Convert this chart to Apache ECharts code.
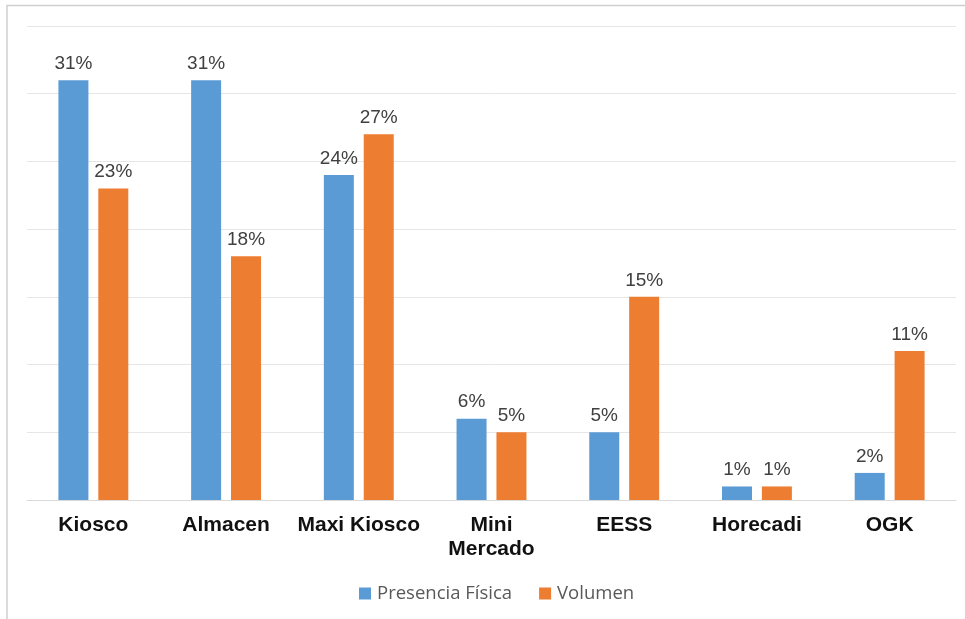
<!DOCTYPE html>
<html>
<head>
<meta charset="utf-8">
<script src="https://cdn.jsdelivr.net/npm/echarts@6/dist/echarts.min.js"></script>
<style>html,body{margin:0;padding:0;background:#fff;}#c{width:965px;height:619px;}</style>
</head>
<body>
<div id="c"></div>
<script>
const categories = ['Kiosco', 'Almacen', 'Maxi Kiosco', 'Mini\nMercado', 'EESS', 'Horecadi', 'OGK'];
const presencia = [31, 31, 24, 6, 5, 1, 2];
const volumen = [23, 18, 27, 5, 15, 1, 11];
const seriesNames = ['Presencia Física', 'Volumen'];

const chart = echarts.init(document.getElementById('c'), null, {renderer: 'canvas'});
const labelCfg = {
  show: true, position: 'top', distance: 7,
  formatter: p => p.value + '%',
  color: '#404040', fontSize: 19, fontFamily: "'Liberation Sans', Arial, sans-serif"
};
chart.setOption({
  animation: false,
  graphic: [{
    type: 'polyline', silent: true,
    shape: {points: [[7, 619], [7, 5.5], [965, 5.5]]},
    style: {stroke: '#cfcfcf', lineWidth: 1.5, fill: null}
  }],
  grid: {left: 27, right: 9, top: 26, bottom: 119, containLabel: false},
  legend: {
    data: seriesNames, top: 579, left: 354,
    itemWidth: 12, itemHeight: 12, itemGap: 27, icon: 'rect',
    textStyle: {color: '#595959', fontSize: 18.5, fontFamily: "'Open Sans', sans-serif", padding: [0, 0, 0, 1]}
  },
  xAxis: {
    type: 'category', data: categories,
    axisLine: {lineStyle: {color: '#d9d9d9', width: 1}},
    axisTick: {show: false},
    axisLabel: {
      color: '#111', fontWeight: 'bold', fontSize: 21, margin: 13, lineHeight: 24,
      fontFamily: "'Liberation Sans', Arial, sans-serif", interval: 0
    }
  },
  yAxis: {
    type: 'value', min: 0, max: 35, interval: 5,
    axisLabel: {show: false}, axisLine: {show: false}, axisTick: {show: false},
    splitLine: {lineStyle: {color: '#e6e6e6', width: 1}}
  },
  series: [
    {name: seriesNames[0], type: 'bar', data: presencia, barWidth: 30, barGap: '33%',
     itemStyle: {color: '#5B9BD5'}, label: labelCfg},
    {name: seriesNames[1], type: 'bar', data: volumen, barWidth: 30, barGap: '33%',
     itemStyle: {color: '#ED7D31'}, label: labelCfg}
  ]
});
</script>
</body>
</html>
